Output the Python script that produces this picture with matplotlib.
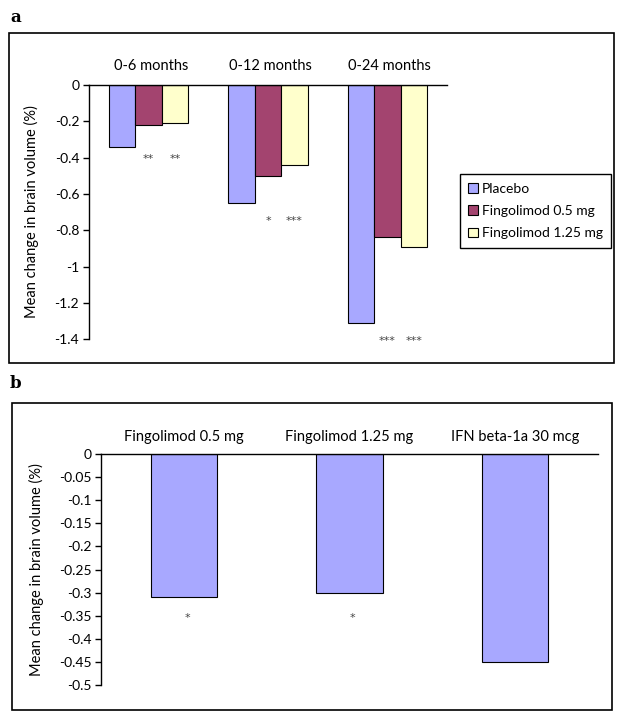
import matplotlib.pyplot as plt
import matplotlib.patches as mpatches
import numpy as np

plt.rcParams['font.family'] = ['Lato', 'DejaVu Sans']

# panel a data
periods = ['0-6 months', '0-12 months', '0-24 months']
groups = ['Placebo', 'Fingolimod 0.5 mg', 'Fingolimod 1.25 mg']
placebo = [-0.34, -0.65, -1.31]
fingo_05 = [-0.22, -0.50, -0.84]
fingo_125 = [-0.21, -0.44, -0.89]
stars_05 = ['**', '*', '***']
stars_125 = ['**', '***', '***']
star_y_a = [-0.41, -0.75, -1.41]
a_ticks = [0, -0.2, -0.4, -0.6, -0.8, -1, -1.2, -1.4]

# panel b data
treatments = ['Fingolimod 0.5 mg', 'Fingolimod 1.25 mg', 'IFN beta-1a 30 mcg']
change_b = [-0.31, -0.30, -0.45]
stars_b = ['*', '*', '']
star_y_b = -0.355
b_ticks = [0, -0.05, -0.1, -0.15, -0.2, -0.25, -0.3, -0.35, -0.4, -0.45, -0.5]

colors = ['#A8A8FF', '#A3446F', '#FFFFCC']
star_font = dict(fontsize=8, color='#444444', family='DejaVu Sans', ha='center', va='center')


def style_axis(ax, ticks):
    for side in ['right', 'bottom']:
        ax.spines[side].set_visible(False)
    ax.spines['left'].set_linewidth(1.0)
    ax.spines['top'].set_linewidth(1.0)
    ax.set_yticks(ticks)
    ax.set_yticklabels([f'{t:g}' for t in ticks])
    ax.tick_params(axis='y', direction='out', length=4, width=1, labelsize=10, pad=3)
    ax.set_xticks([])
    ax.set_ylabel('Mean change in brain volume (%)', fontsize=10.5)


fig = plt.figure(figsize=(6.2, 7.2), dpi=100)

# outer frames
fig.patches.append(mpatches.Rectangle((0.0145, 0.4958), 0.976, 0.458, transform=fig.transFigure,
                                      fill=False, edgecolor='black', linewidth=1.2))
fig.patches.append(mpatches.Rectangle((0.019, 0.0139), 0.968, 0.426, transform=fig.transFigure,
                                      fill=False, edgecolor='black', linewidth=1.2))
fig.text(0.016, 0.975, 'a', fontsize=12, fontweight='bold', family='DejaVu Serif', va='center')
fig.text(0.016, 0.468, 'b', fontsize=12, fontweight='bold', family='DejaVu Serif', va='center')

# panel a
ax1 = fig.add_axes([0.1435, 0.529, 0.5775, 0.353])
x = np.arange(len(periods))
w = 0.222
series = [placebo, fingo_05, fingo_125]
for i, (vals, c, lab) in enumerate(zip(series, colors, groups)):
    ax1.bar(x + (i - 1) * w, vals, width=w, color=c, edgecolor='black', linewidth=0.8, label=lab)
for j in range(len(periods)):
    ax1.text(x[j] + 0.02, 0.065, periods[j], ha='center', va='bottom', fontsize=10.5)
    ax1.text(x[j], star_y_a[j], stars_05[j], **star_font)
    ax1.text(x[j] + w, star_y_a[j], stars_125[j], **star_font)
ax1.set_xlim(-0.5, 2.5)
ax1.set_ylim(-1.4, 0)
style_axis(ax1, a_ticks)
ax1.yaxis.set_label_coords(-0.14, 0.5)
leg = ax1.legend(loc='upper left', bbox_to_anchor=(1.035, 0.649), frameon=True, fancybox=False,
                 edgecolor='black', fontsize=10, handlelength=0.7, handleheight=0.7,
                 handletextpad=0.3, labelspacing=0.75, borderpad=0.6, borderaxespad=0,
                 framealpha=1)
leg.get_frame().set_linewidth(1.0)

# panel b
ax2 = fig.add_axes([0.163, 0.0486, 0.8015, 0.3208])
xb = np.arange(len(treatments))
ax2.bar(xb, change_b, width=0.4, color=colors[0], edgecolor='black', linewidth=0.8)
for j in range(len(treatments)):
    ax2.text(xb[j], 0.022, treatments[j], ha='center', va='bottom', fontsize=10.5)
    if stars_b[j]:
        ax2.text(xb[j] + 0.02, star_y_b, stars_b[j], **star_font)
ax2.set_xlim(-0.5, 2.5)
ax2.set_ylim(-0.5, 0)
style_axis(ax2, b_ticks)
ax2.yaxis.set_label_coords(-0.115, 0.5)

fig.savefig('out.png', dpi=100)
